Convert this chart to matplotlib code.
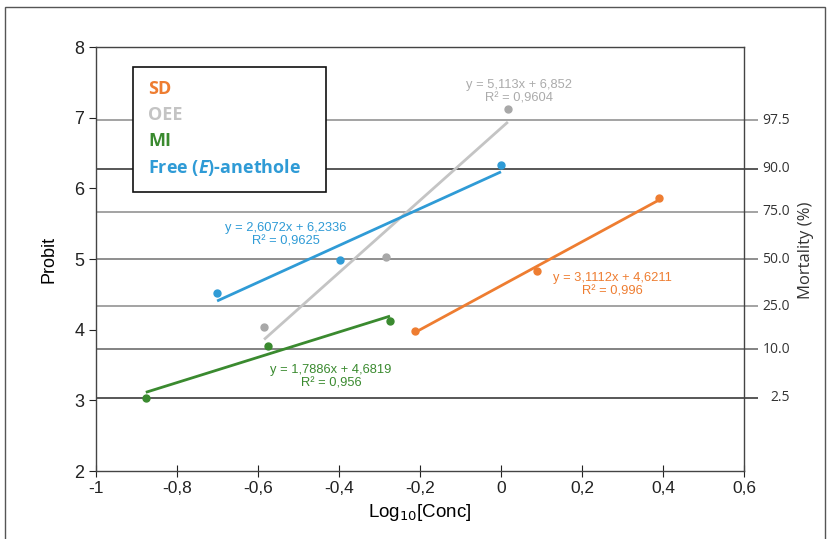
import matplotlib
matplotlib.use("Agg")
import matplotlib.pyplot as plt
from matplotlib.patches import Rectangle
import numpy as np

plt.rcParams['font.family'] = ['Liberation Sans', 'DejaVu Sans']
plt.rcParams['mathtext.fontset'] = 'custom'
plt.rcParams['mathtext.rm'] = 'Liberation Sans Narrow'
plt.rcParams['mathtext.it'] = 'Open Sans:italic:bold'

# log10 concentration vs probit for each formulation
sd_x = [-0.212, 0.089, 0.390]
sd_y = [3.98, 4.83, 5.86]
oee_x = [-0.585, -0.284, 0.017]
oee_y = [4.04, 5.03, 7.12]
mi_x = [-0.877, -0.575, -0.274]
mi_y = [3.03, 3.77, 4.12]
free_x = [-0.701, -0.398, 0.0]
free_y = [4.52, 4.98, 6.33]

# fitted trendlines (slope, intercept, R2)
sd_fit = (3.1112, 4.6211, 0.996)
oee_fit = (5.113, 6.852, 0.9604)
mi_fit = (1.7886, 4.6819, 0.956)
free_fit = (2.6072, 6.2336, 0.9625)

mortality = [97.5, 90.0, 75.0, 50.0, 25.0, 10.0, 2.5]
mortality_probit = [6.96, 6.28, 5.67, 5.0, 4.33, 3.72, 3.04]
mortality_labels = ['97.5', '90.0', '75.0', '50.0', '25.0', '10.0', '2.5']

xtick_labels = ['-1', '-0,8', '-0,6', '-0,4', '-0,2', '0', '0,2', '0,4', '0,6']

c_sd = '#EE7D31'
c_oee = '#C4C4C4'
c_mi = '#3A8A2F'
c_free = '#2F9BD6'
narrow = ['Liberation Sans Narrow', 'Liberation Sans', 'DejaVu Sans']

fig = plt.figure(figsize=(8.27, 5.39), dpi=100)
ax = fig.add_axes([96/827, 68/539, 648/827, 424/539])

ax.set_xlim(-1, 0.6)
ax.set_ylim(2, 8)

# mortality reference lines, running a bit past the right spine
line_cols = ['#8a8a8a', '#2a2a2a', '#8a8a8a', '#707070', '#8a8a8a', '#606060', '#2a2a2a']
for p, lc, lab in zip(mortality_probit, line_cols, mortality_labels):
    ax.hlines(p, -1, 0.635, color=lc, lw=1.1, clip_on=False, zorder=1)
    ax.text(0.714, p, lab, ha='right', va='center', fontsize=10,
            family=['Open Sans', 'DejaVu Sans'], color='#333333')
ax.axhline(8, color='#9a9a9a', lw=1.5, zorder=1)

def series(xs, ys, fit, col, lc=None):
    s, b, r2 = fit
    xs = np.array(xs)
    ax.plot(xs[[0, -1]], s * xs[[0, -1]] + b, color=lc or col, lw=2, zorder=2,
            solid_capstyle='butt')
    ax.plot(xs, ys, 'o', color=col, ms=5, zorder=3)

series(sd_x, sd_y, sd_fit, c_sd)
series(oee_x, oee_y, oee_fit, '#A8A8A8', c_oee)
series(mi_x, mi_y, mi_fit, c_mi)
series(free_x, free_y, free_fit, c_free)

def eq(x, y, fit, col, fmt_s, fmt_b, fmt_r):
    s, b, r2 = fit
    txt = ('y = ' + fmt_s.format(s) + 'x + ' + fmt_b.format(b) + '\nR² = ' + fmt_r.format(r2)).replace('.', ',')
    ax.text(x, y, txt, ha='center', va='center', color=col, fontsize=9.3, linespacing=1.15)

eq(0.044, 7.37, oee_fit, '#ABABAB', '{:.3f}', '{:.3f}', '{:.4f}')
eq(0.274, 4.63, sd_fit, c_sd, '{:.4f}', '{:.4f}', '{:.3f}')
eq(-0.532, 5.34, free_fit, c_free, '{:.4f}', '{:.4f}', '{:.4f}')
eq(-0.42, 3.33, mi_fit, c_mi, '{:.4f}', '{:.4f}', '{:.3f}')

ax.set_xticks(np.arange(-1, 0.61, 0.2))
ax.set_xticklabels(xtick_labels, family=narrow)
ax.set_yticks(range(2, 9))
ax.tick_params(axis='x', direction='inout', length=9, labelsize=12.5, colors='#222222', pad=3)
ax.tick_params(axis='y', direction='out', length=5, labelsize=13, colors='#222222')
for sp in ax.spines.values():
    sp.set_color('#444444')
    sp.set_linewidth(1)

ax.set_xlabel(r'Log$_{10}$[Conc]', fontsize=13.5, labelpad=4, family=narrow)
ax.set_ylabel('Probit', fontsize=13, labelpad=12)
fig.text(806/827, 1 - 250/539, 'Mortality (%)', rotation=90, ha='center', va='center',
         fontsize=12, family=['Open Sans', 'DejaVu Sans'], color='#333333')

# legend box
fig.patches.append(Rectangle((133/827, 1 - 192/539), 193/827, 125/539, transform=fig.transFigure,
                             fill=True, facecolor='white', edgecolor='#111111', lw=1.2, zorder=5))
leg_items = [('SD', c_sd), ('OEE', c_oee), ('MI', c_mi), ('Free ($E$)-anethole', c_free)]
for i, (lab, col) in enumerate(leg_items):
    fig.text(148/827, 1 - (89 + 26 * i)/539, lab, color=col, fontsize=13, fontweight='bold',
             family=['Open Sans', 'DejaVu Sans'], va='center', ha='left', zorder=6)

# outer frame
fig.patches.append(Rectangle((5/827, -0.02), 820/827, 1.02 - 7/539, transform=fig.transFigure,
                             fill=False, edgecolor='#555555', lw=1))

fig.savefig('out.png', dpi=100)
